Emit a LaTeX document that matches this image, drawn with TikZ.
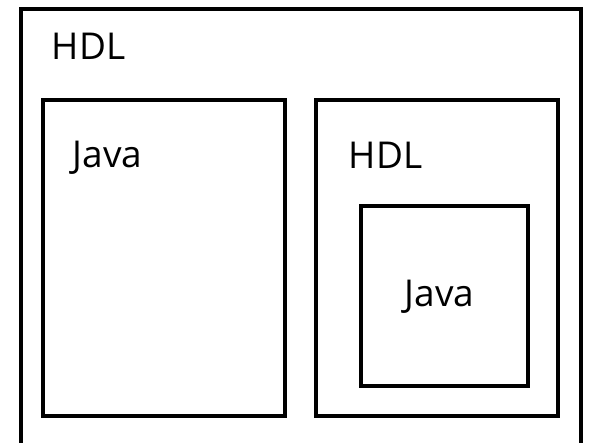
\documentclass[tikz,border=0pt]{standalone}
\usepackage{fontspec}
\setmainfont{Open Sans}

\begin{document}
\begin{tikzpicture}[x=1pt,y=-1pt, line width=3.5pt, line join=miter,
		lbl/.style={anchor=base west, inner sep=0pt, font=\fontsize{37}{41}\selectfont}]
		\def\W{589};
		\def\H{443};
		\clip (0,0) rectangle (\W,\H);
	
		% outer level, runs off the bottom
		\draw (21,470) -- (21,9) -- (581,9) -- (581,470);
		\node[lbl] (hdlA) at (50,60) {HDL};
	
		% left block
		\draw (43,100) rectangle (285,416);
		\node[lbl] (javaA) at (71,168) {Java};
	
		% right block with nested one
		\draw (316,100) rectangle (558,416);
		\node[lbl] (hdlB) at (347,169) {HDL};
		\draw (361,206) rectangle (528,386);
		\node[lbl] (javaB) at (403,307) {Java};
	\end{tikzpicture}
\end{document}
